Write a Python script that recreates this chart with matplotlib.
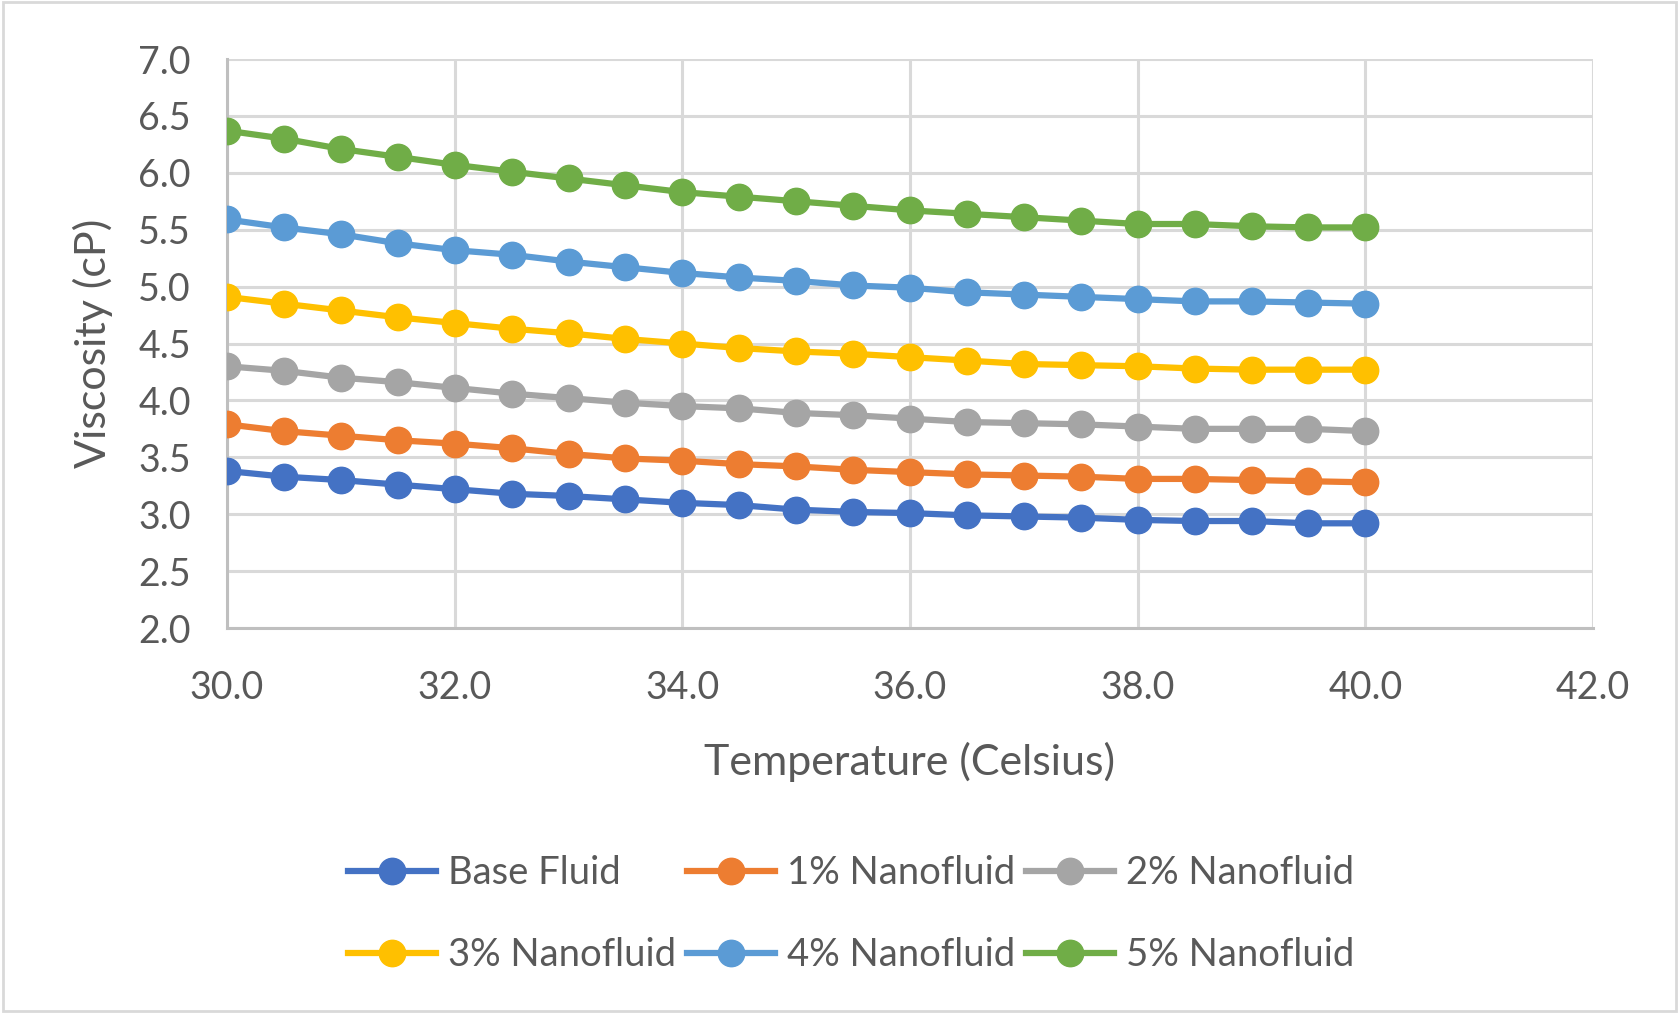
import matplotlib.pyplot as plt
from matplotlib.patches import Rectangle

plt.rcParams['font.family'] = ['Lato', 'DejaVu Sans']

temperature = [30.0, 30.5, 31.0, 31.5, 32.0, 32.5, 33.0, 33.5, 34.0, 34.5, 35.0,
               35.5, 36.0, 36.5, 37.0, 37.5, 38.0, 38.5, 39.0, 39.5, 40.0]

base_fluid = [3.38, 3.33, 3.30, 3.26, 3.22, 3.18, 3.16, 3.13, 3.10, 3.08, 3.04,
              3.02, 3.01, 2.99, 2.98, 2.97, 2.95, 2.94, 2.94, 2.92, 2.92]
nano_1 = [3.79, 3.73, 3.69, 3.65, 3.62, 3.58, 3.53, 3.49, 3.47, 3.44, 3.42,
          3.39, 3.37, 3.35, 3.34, 3.33, 3.31, 3.31, 3.30, 3.29, 3.28]
nano_2 = [4.30, 4.26, 4.20, 4.16, 4.11, 4.06, 4.02, 3.98, 3.95, 3.93, 3.89,
          3.87, 3.84, 3.81, 3.80, 3.79, 3.77, 3.75, 3.75, 3.75, 3.73]
nano_3 = [4.91, 4.85, 4.79, 4.73, 4.68, 4.63, 4.59, 4.54, 4.50, 4.46, 4.43,
          4.41, 4.38, 4.35, 4.32, 4.31, 4.30, 4.28, 4.27, 4.27, 4.27]
nano_4 = [5.59, 5.52, 5.46, 5.38, 5.32, 5.28, 5.22, 5.17, 5.12, 5.08, 5.05,
          5.01, 4.99, 4.95, 4.93, 4.91, 4.89, 4.87, 4.87, 4.86, 4.85]
nano_5 = [6.37, 6.30, 6.21, 6.14, 6.07, 6.01, 5.95, 5.89, 5.83, 5.79, 5.75,
          5.71, 5.67, 5.64, 5.61, 5.58, 5.55, 5.55, 5.53, 5.52, 5.52]

labels = ['Base Fluid', '1% Nanofluid', '2% Nanofluid',
          '3% Nanofluid', '4% Nanofluid', '5% Nanofluid']
colors = ['#4472C4', '#ED7D31', '#A5A5A5', '#FFC000', '#5B9BD5', '#70AD47']
series = [base_fluid, nano_1, nano_2, nano_3, nano_4, nano_5]

x_ticks = [30, 32, 34, 36, 38, 40, 42]
y_ticks = [2.0, 2.5, 3.0, 3.5, 4.0, 4.5, 5.0, 5.5, 6.0, 6.5, 7.0]

text_color = '#595959'
grid_color = '#D9D9D9'

fig = plt.figure(figsize=(16.79, 10.13), dpi=100)
ax = fig.add_axes([227 / 1679, 1 - 628 / 1013, (1593 - 227) / 1679, (628 - 59) / 1013])

fig.patches.append(Rectangle((0.002, 0.002), 0.996, 0.996, transform=fig.transFigure,
                             fill=False, edgecolor='#D9D9D9', linewidth=2))

lines = []
for vals, lab, col in zip(series, labels, colors):
    ln, = ax.plot(temperature, vals, color=col, linewidth=4.5, marker='o',
                  markersize=19, label=lab, zorder=3)
    lines.append(ln)

ax.set_xlim(30, 42)
ax.set_ylim(2.0, 7.0)
ax.set_xticks(x_ticks)
ax.set_yticks(y_ticks)
ax.set_xticklabels([f'{t:.1f}' for t in x_ticks])
ax.set_yticklabels([f'{t:.1f}' for t in y_ticks])
ax.grid(True, color=grid_color, linewidth=2.2)
ax.set_axisbelow(True)
for side in ['top', 'right']:
    ax.spines[side].set_visible(False)
for side in ['left', 'bottom']:
    ax.spines[side].set_color('#BFBFBF')
    ax.spines[side].set_linewidth(2.2)
ax.tick_params(axis='x', length=0, labelsize=27, colors=text_color, pad=30)
ax.tick_params(axis='y', length=0, labelsize=27, colors=text_color, pad=26)

ax.set_xlabel('Temperature (Celsius)', fontsize=31, color=text_color, labelpad=26)
ax.set_ylabel('Viscosity (cP)', fontsize=31, color=text_color, labelpad=18)

# legend fills by column, so reorder to get rows Base/1%/2% and 3%/4%/5%
order = [0, 3, 1, 4, 2, 5]
fig.legend([lines[i] for i in order], [labels[i] for i in order],
           loc='lower center', ncol=3, bbox_to_anchor=(0.507, 0.0),
           frameon=False, fontsize=27.5, labelcolor=text_color,
           handlelength=2.3, columnspacing=0.3, handletextpad=0.3,
           labelspacing=1.2, borderaxespad=0.65)

fig.savefig('out.png', dpi=100)
